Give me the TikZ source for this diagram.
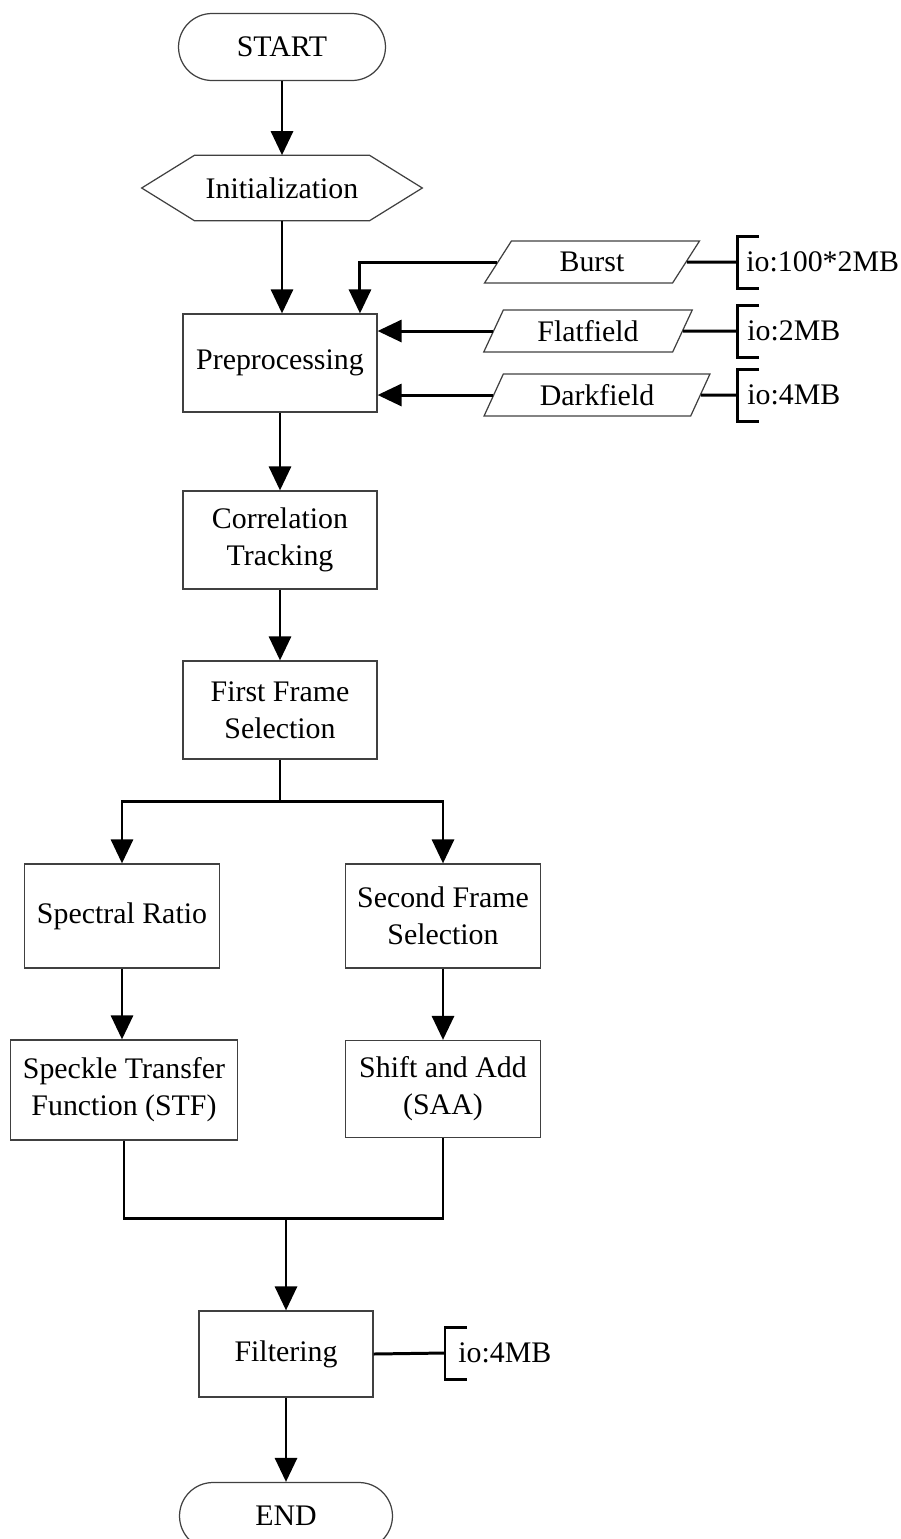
\documentclass[tikz,border=0pt]{standalone}
\usepackage{fontspec}
\setmainfont{Liberation Serif}
\usetikzlibrary{arrows.meta,shapes.geometric}

\tikzset{
  box/.style={draw=black!75, line width=0.7pt, rectangle, align=center,
              minimum width=3.88cm, minimum height=1.96cm, inner sep=2pt},
  term/.style={draw=black!75, line width=0.7pt, rectangle, rounded corners=0.67cm,
               minimum width=4.14cm, minimum height=1.34cm},
  data/.style={draw=black!75, line width=0.7pt, trapezium, trapezium left angle=64,
               trapezium right angle=116, trapezium stretches=true,
               minimum height=0.84cm, inner sep=1pt},
  link/.style={line width=1.7pt},
  arr/.style={link, -{Triangle[length=0.48cm, width=0.44cm]}},
  iotext/.style={anchor=west, inner sep=0pt},
}

\begin{document}
\begin{tikzpicture}[x=0.02cm, y=-0.02cm, font=\fontsize{17}{21}\selectfont]
    \useasboundingbox (0,0) rectangle (900,1539);
    \clip (0,0) rectangle (900,1539);

    % main column
    \node[term] (start) at (282,47) {START};
    \node[minimum width=5.6cm, minimum height=1.3cm] (init) at (282,188) {Initialization};
    \draw[draw=black!75, line width=0.7pt] (init.west) -- ([xshift=1.06cm]init.north west)
        -- ([xshift=-1.06cm]init.north east) -- (init.east)
        -- ([xshift=-1.06cm]init.south east) -- ([xshift=1.06cm]init.south west) -- cycle;
    \node[box] (preproc) at (280,363) {Preprocessing};
    \node[box] (corr) at (280,540) {Correlation\\Tracking};
    \node[box] (first) at (280,710) {First Frame\\Selection};

    % two branches
    \node[box, minimum width=3.9cm, minimum height=2.08cm] (spec) at (122,916) {Spectral Ratio};
    \node[box, minimum width=3.9cm, minimum height=2.08cm] (second) at (443,916) {Second Frame\\Selection};
    \node[box, minimum width=4.54cm, minimum height=2cm] (stf) at (124,1090) {Speckle Transfer\\Function (STF)};
    \node[box, minimum width=3.9cm, minimum height=1.94cm] (saa) at (443,1089) {Shift and Add\\(SAA)};

    \node[box, minimum width=3.48cm, minimum height=1.72cm] (filt) at (286,1354) {Filtering};
    \node[term, minimum width=4.26cm] (end) at (286,1516) {END};

    % input data
    \node[data, minimum width=4.3cm] (burst) at (592,262) {Burst};
    \node[data, minimum width=4.18cm] (flat) at (588,331) {Flatfield};
    \node[data, minimum width=4.54cm] (dark) at (597,395) {Darkfield};

    % io brackets
    \coordinate (b1) at (737,262);
    \coordinate (b2) at (737,331);
    \coordinate (b3) at (737,395);
    \coordinate (b4) at (445,1353);
    \foreach \b in {b1,b2,b3,b4} {
        \draw[link] ([shift={(22,-26)}]\b) -- ++(-22,0) -- ++(0,52) -- ++(22,0);
    }
    \node[iotext] (io1) at ([xshift=0.18cm]b1) {io:100*2MB};
    \node[iotext] (io2) at ([xshift=0.2cm]b2) {io:2MB};
    \node[iotext] (io3) at ([xshift=0.2cm]b3) {io:4MB};
    \node[iotext] (io4) at ([xshift=0.26cm]b4) {io:4MB};

    \draw[link] (burst.east) -- (b1);
    \draw[link] (flat.east) -- (b2);
    \draw[link] (dark.east) -- (b3);
    \draw[link] (filt.east) -- (b4);

    % connectors
    \draw[arr] (start) -- (init);
    \draw[arr] (init.south) -- (init.south |- preproc.north);
    \draw[arr] (burst.west) -| ([xshift=1.6cm]preproc.north);
    \draw[arr] (flat.west) -- (flat.west -| preproc.east);
    \draw[arr] (dark.west) -- (dark.west -| preproc.east);
    \draw[arr] (preproc) -- (corr);
    \draw[arr] (corr) -- (first);

    \draw[link] (first.south) -- ++(0,42) coordinate (fork);
    \draw[arr] (fork) -| (spec.north);
    \draw[arr] (fork) -| (second.north);
    \draw[arr] (spec) -- (spec.south |- stf.north);
    \draw[arr] (second) -- (saa);

    \coordinate (merge) at (filt.north |- 0,1218);
    \draw[link] (stf.south) |- (merge) -| (saa.south);
    \draw[arr] (merge) -- (filt.north);
    \draw[arr] (filt) -- (end);
\end{tikzpicture}
\end{document}
